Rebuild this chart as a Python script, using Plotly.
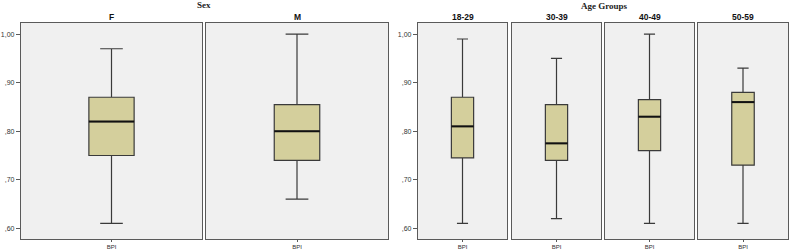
import plotly.graph_objects as go

# ---- data ----
sex_groups = ["F", "M"]
sex_min = [0.61, 0.66]
sex_q1 = [0.75, 0.74]
sex_median = [0.82, 0.80]
sex_q3 = [0.87, 0.855]
sex_max = [0.97, 1.00]

age_groups = ["18-29", "30-39", "40-49", "50-59"]
age_min = [0.61, 0.62, 0.61, 0.61]
age_q1 = [0.745, 0.74, 0.76, 0.73]
age_median = [0.81, 0.775, 0.83, 0.86]
age_q3 = [0.87, 0.855, 0.865, 0.88]
age_max = [0.99, 0.95, 1.00, 0.93]

variable_label = "BPI"
y_tickvals = [0.6, 0.7, 0.8, 0.9, 1.0]
y_ticktext = [",60", ",70", ",80", ",90", "1,00"]

W, H = 793, 251
# panel pixel extents
panel_px = [(21, 202), (206, 388), (418, 507), (512, 601), (605, 694), (698, 788)]
top_px, bot_px = 23, 239
y_dom = [1 - bot_px / H, 1 - top_px / H]
y_range = [0.578, 1.023]

BOX_FILL = "#d4cf9c"
BOX_LINE = "#3a3a3a"
FRAME = "#5a5a5a"
BG = "#f0f0f0"

titles = sex_groups + age_groups
mins = sex_min + age_min
q1s = sex_q1 + age_q1
meds = sex_median + age_median
q3s = sex_q3 + age_q3
maxs = sex_max + age_max

fig = go.Figure()
box_w = 0.25
for i in range(6):
    xa = "x" if i == 0 else f"x{i+1}"
    ya = "y" if i == 0 else f"y{i+1}"
    fig.add_trace(go.Box(
        x=[0], q1=[q1s[i]], median=[meds[i]], q3=[q3s[i]],
        lowerfence=[mins[i]], upperfence=[maxs[i]],
        width=box_w, whiskerwidth=0.5,
        fillcolor=BOX_FILL, line=dict(color=BOX_LINE, width=1.2),
        xaxis=xa, yaxis=ya, showlegend=False, hoverinfo="skip",
    ))
    # thicker median line like SPSS
    fig.add_trace(go.Scatter(
        x=[-box_w / 2, box_w / 2], y=[meds[i], meds[i]], mode="lines",
        line=dict(color="#111111", width=2), xaxis=xa, yaxis=ya,
        showlegend=False, hoverinfo="skip",
    ))

layout = dict(
    width=W, height=H, margin=dict(l=0, r=0, t=0, b=0, autoexpand=False),
    paper_bgcolor="white", plot_bgcolor=BG, showlegend=False,
    font=dict(family="Liberation Sans, Arial", color="#222222"),
)
for i, (x0, x1) in enumerate(panel_px):
    key_x = "xaxis" if i == 0 else f"xaxis{i+1}"
    key_y = "yaxis" if i == 0 else f"yaxis{i+1}"
    anchor_x = "y" if i == 0 else f"y{i+1}"
    anchor_y = "x" if i == 0 else f"x{i+1}"
    layout[key_x] = dict(
        domain=[x0 / W, x1 / W], anchor=anchor_x, range=[-0.5, 0.5],
        tickvals=[0], ticktext=[variable_label], ticks="outside", ticklen=2,
        tickcolor=FRAME, tickfont=dict(size=6, color="#333333"), ticklabelstandoff=0,
        showline=True, mirror=True, linecolor=FRAME, linewidth=1.3,
        showgrid=False, zeroline=False, fixedrange=True, automargin=False,
    )
    show_ticks = i in (0, 2)
    layout[key_y] = dict(
        domain=y_dom, anchor=anchor_y, range=y_range,
        tickvals=y_tickvals, ticktext=y_ticktext,
        ticks="outside" if show_ticks else "", ticklen=4, tickcolor=FRAME,
        showticklabels=show_ticks, tickfont=dict(size=7, color="#333333"),
        showline=True, mirror=True, linecolor=FRAME, linewidth=1.3,
        showgrid=False, zeroline=False, fixedrange=True, automargin=False,
    )
fig.update_layout(**layout)

# panel titles
for i, (x0, x1) in enumerate(panel_px):
    fig.add_annotation(
        text=f"<b>{titles[i]}</b>", x=(x0 + x1) / 2 / W, y=1 - 17 / H,
        xref="paper", yref="paper", showarrow=False, xanchor="center", yanchor="middle",
        font=dict(size=8.5, family="Liberation Sans, Arial", color="#111111"),
    )
# group titles
fig.add_annotation(text="<b>Sex</b>", x=204 / W, y=1 - 5 / H, xref="paper", yref="paper",
                   showarrow=False, xanchor="center", yanchor="middle",
                   font=dict(size=9, family="Liberation Serif, Times New Roman", color="#222222"))
fig.add_annotation(text="<b>Age Groups</b>", x=604 / W, y=1 - 6 / H, xref="paper", yref="paper",
                   showarrow=False, xanchor="center", yanchor="middle",
                   font=dict(size=9, family="Liberation Serif, Times New Roman", color="#222222"))

fig.write_html("out.html", config={"displayModeBar": False},
               post_script="document.body.style.margin='0px';")
